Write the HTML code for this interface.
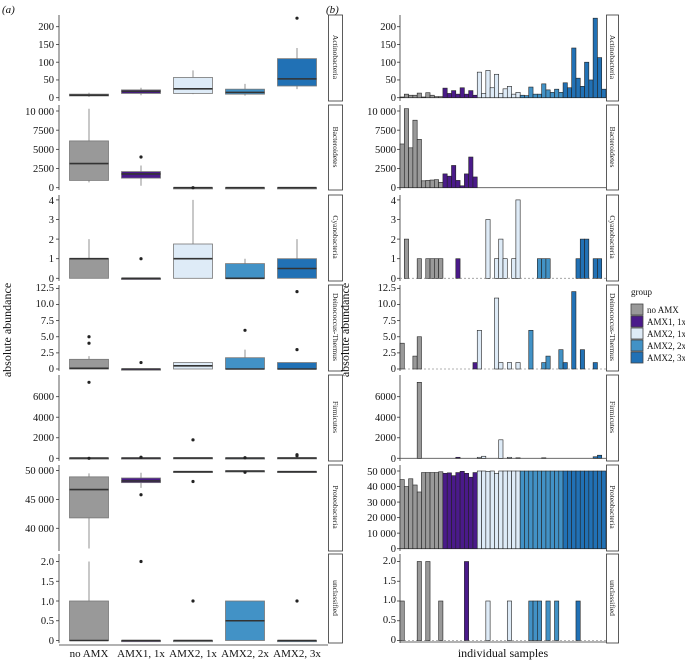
<!DOCTYPE html>
<html><head><meta charset="utf-8"><style>
body{margin:0;background:#fff}
svg{display:block;font-family:"Liberation Serif",serif}
</style></head><body>
<svg id="s" width="685" height="660" viewBox="0 0 685 660" xmlns="http://www.w3.org/2000/svg">
<g id="g"></g>
<g font-size="11" fill="#111">
<text x="2" y="13" font-style="italic">(a)</text>
<text x="326" y="13" font-style="italic">(b)</text>
<text transform="translate(11,330) rotate(-90)" text-anchor="middle" font-size="12">absolute abundance</text>
<text transform="translate(349,330) rotate(-90)" text-anchor="middle" font-size="12">absolute abundance</text>
<text x="503" y="657" text-anchor="middle" font-size="12">individual samples</text>
<g text-anchor="middle" font-size="11">
<text x="89" y="657">no AMX</text><text x="141" y="657">AMX1, 1x</text><text x="193" y="657">AMX2, 1x</text><text x="245" y="657">AMX2, 2x</text><text x="297" y="657">AMX2, 3x</text>
</g>
<g font-size="7.5" text-anchor="middle" fill="#222">
<text transform="translate(333,57) rotate(90)">Actinobacteria</text>
<text transform="translate(333,147) rotate(90)">Bacteroidetes</text>
<text transform="translate(333,237) rotate(90)">Cyanobacteria</text>
<text transform="translate(333,327) rotate(90)">Deinococcus-Thermus</text>
<text transform="translate(333,417) rotate(90)">Firmicutes</text>
<text transform="translate(333,507) rotate(90)">Proteobacteria</text>
<text transform="translate(333,598) rotate(90)">unclassified</text>
<text transform="translate(610,57) rotate(90)">Actinobacteria</text>
<text transform="translate(610,147) rotate(90)">Bacteroidetes</text>
<text transform="translate(610,237) rotate(90)">Cyanobacteria</text>
<text transform="translate(610,327) rotate(90)">Deinococcus-Thermus</text>
<text transform="translate(610,417) rotate(90)">Firmicutes</text>
<text transform="translate(610,507) rotate(90)">Proteobacteria</text>
<text transform="translate(610,598) rotate(90)">unclassified</text>
</g>
<g font-size="10.5" text-anchor="end">
<text x="54" y="101">0</text><text x="54" y="83">50</text><text x="54" y="66">100</text><text x="54" y="48">150</text><text x="54" y="30">200</text>
<text x="54" y="191">0</text><text x="54" y="172">2500</text><text x="54" y="153">5000</text><text x="54" y="134">7500</text><text x="54" y="115">10 000</text>
<text x="54" y="282">0</text><text x="54" y="262">1</text><text x="54" y="243">2</text><text x="54" y="223">3</text><text x="54" y="204">4</text>
<text x="54" y="372">0</text><text x="54" y="356">2.5</text><text x="54" y="340">5.0</text><text x="54" y="324">7.5</text><text x="54" y="307">10.0</text><text x="54" y="291">12.5</text>
<text x="54" y="462">0</text><text x="54" y="441">2000</text><text x="54" y="421">4000</text><text x="54" y="400">6000</text>
<text x="54" y="474">50 000</text><text x="54" y="503">45 000</text><text x="54" y="532">40 000</text>
<text x="54" y="644">0</text><text x="54" y="624">0.5</text><text x="54" y="605">1.0</text><text x="54" y="585">1.5</text><text x="54" y="565">2.0</text>
<text x="396" y="101">0</text><text x="396" y="83">50</text><text x="396" y="66">100</text><text x="396" y="48">150</text><text x="396" y="30">200</text>
<text x="396" y="191">0</text><text x="396" y="172">2500</text><text x="396" y="153">5000</text><text x="396" y="134">7500</text><text x="396" y="115">10 000</text>
<text x="396" y="282">0</text><text x="396" y="262">1</text><text x="396" y="243">2</text><text x="396" y="223">3</text><text x="396" y="204">4</text>
<text x="396" y="372">0</text><text x="396" y="356">2.5</text><text x="396" y="340">5.0</text><text x="396" y="324">7.5</text><text x="396" y="307">10.0</text><text x="396" y="291">12.5</text>
<text x="396" y="462">0</text><text x="396" y="441">2000</text><text x="396" y="421">4000</text><text x="396" y="400">6000</text>
<text x="396" y="552">0</text><text x="396" y="537">10 000</text><text x="396" y="521">20 000</text><text x="396" y="506">30 000</text><text x="396" y="490">40 000</text><text x="396" y="475">50 000</text>
<text x="396" y="643">0</text><text x="396" y="623">0.5</text><text x="396" y="603">1.0</text><text x="396" y="584">1.5</text><text x="396" y="564">2.0</text>
</g>
<g font-size="9">
<text x="631" y="295">group</text>
<text x="647" y="313">no AMX</text><text x="647" y="325">AMX1, 1x</text><text x="647" y="337">AMX2, 1x</text><text x="647" y="349">AMX2, 2x</text><text x="647" y="361">AMX2, 3x</text>
</g>
</g>
</svg>
<script>
var C=['#999999','#4a1a8a','#deebf7','#4292c6','#2171b5'];
var rows=[
{t:15,b:101,y0:97.7,k:0.355},
{t:105,b:190,y0:187.7,k:0.00767},
{t:195,b:281,y0:278.3,k:19.6},
{t:285,b:371,y0:369,k:6.45},
{t:375,b:461,y0:458.3,k:0.01027},
{t:465,b:551,y0:548.7,k:0.001554},
{t:554,b:643,y0:640.5,k:39.5}];
var h='';
function L(x1,y1,x2,y2,c,w,d){h+='<line x1="'+x1+'" y1="'+y1+'" x2="'+x2+'" y2="'+y2+'" stroke="'+c+'" stroke-width="'+(w||1)+'"'+(d?' stroke-dasharray="'+d+'"':'')+'/>';}
function R(x,y,w,hh,f,s,sw){h+='<rect x="'+x+'" y="'+y+'" width="'+w+'" height="'+hh+'" fill="'+f+'" stroke="'+s+'" stroke-width="'+sw+'"/>';}
rows.forEach(function(r){R(328.5,r.t,14,r.b-r.t,'#fff','#333',0.8);R(606.5,r.t,12,r.b-r.t,'#fff','#333',0.8);
L(59,r.t,59,r.b,'#333',0.8);L(400,r.t,400,r.b,'#333',0.8);});
L(59,645,328,645,'#333',0.8);L(400,642,606,642,'#333',0.8);
var tk=[[0,50,100,150,200],[0,2500,5000,7500,10000],[0,1,2,3,4],[0,2.5,5,7.5,10,12.5],[0,2000,4000,6000],[0,10000,20000,30000,40000,50000],[0,.5,1,1.5,2]];
tk.forEach(function(a,i){var r=rows[i];a.forEach(function(v){var y=r.y0-v*r.k;L(397,y,400,y,'#333',0.8);if(i!=5)L(56,y,59,y,'#333',0.8);});});
[50000,45000,40000].forEach(function(v){var y=528.3-(v-40000)*0.00578;L(56,y,59,y,'#333',0.8);});
var D=[
[2,10,7,7,13,2,14,7,3,3, 27,12,20,10,28,10,20,7, 72,12,77,28,66,12,25,32,10,15, 7,6,30,10,10,39,22,15,24,15, 42,28,140,55,32,100,50,224,113,24],
[5700,10300,5200,8800,6300,900,950,1000,1050,700, 1800,1500,2900,950,250,1800,4000,1400],
{1:2,4:1,6:1,7:1,8:1,9:1,13:1,20:3,22:1,23:2,24:1,26:1,27:4,32:1,33:1,34:1,41:1,42:2,43:2,45:1,46:1},
{0:4,3:2,4:5,17:1,18:6,22:11,23:1,25:1,27:1,30:6,33:1,34:2,37:3,38:1,40:12,42:3,45:1},
{4:7400,13:100,18:100,19:200,23:1800,25:100,27:50,33:50,45:150,46:300},
[44500,40000,45000,41000,36500,49000,49000,49000,49000,49500, 48500,48800,47000,49000,49800,48500,46000,49000, 50000,50000,49800,50000,48500,50000,50000,50000,50000,50000],
{0:1,4:2,6:2,9:1,15:2,20:1,25:1,30:1,31:1,32:1,34:1,36:1,41:1}];
function grp(i){return i<10?0:i<18?1:i<28?2:i<38?3:4;}
var bw=206/48;
D.forEach(function(d,ri){var r=rows[ri];
 if(ri==2||ri==3||ri==6)L(400,r.y0,606,r.y0,'#999',0.8,'2,2');
 else L(400,r.y0,606,r.y0,'#555',0.8);
 for(var i=0;i<48;i++){var v=d[i];if(v===undefined)v=(ri==5?50000:0);if(!v)continue;
  var hh=v*r.k;R((400+i*bw).toFixed(2),(r.y0-hh).toFixed(2),bw.toFixed(2),hh.toFixed(2),C[grp(i)],'#222',0.6);}
});
var cx=[89,141,193,245,297];
function box(ri,g,lo,q1,md,q3,hi,out,map){var r=rows[ri];var Y=map||function(v){return r.y0-v*r.k;};var x=cx[g];
 L(x,Y(hi),x,Y(q3),'#777',0.8);L(x,Y(q1),x,Y(lo),'#777',0.8);
 var y1=Y(q3),y2=Y(q1);var hh=Math.max(y2-y1,1.2);
 R(x-19.5,y1,39,hh,C[g],'#777',0.8);L(x-19.5,Y(md),x+19.5,Y(md),'#333',1.6);
 (out||[]).forEach(function(o){h+='<circle cx="'+x+'" cy="'+Y(o)+'" r="1.6" fill="#222"/>';});}
box(0,0,2,5,7,10,14);box(0,1,7,12,18,22,28);box(0,2,10,12,25,57,77);box(0,3,6,10,15,24,39);box(0,4,24,33,53,110,140,[224]);
box(1,0,700,950,3150,6100,10300);box(1,1,250,1250,1800,2100,2900,[4000]);box(1,2,0,0,0,0,0,[0]);box(1,3,0,0,0,0,0);box(1,4,0,0,0,0,0);
box(2,0,0,0,1,1,2);box(2,1,0,0,0,0,0,[1]);box(2,2,0,0,1,1.75,4);box(2,3,0,0,0,0.75,1);box(2,4,0,0,0.5,1,2);
box(3,0,0,0,0.1,1.5,2,[4,5]);box(3,1,0,0,0,0,0,[1]);box(3,2,0,0,0.5,1,1);box(3,3,0,0,0,1.75,3,[6]);box(3,4,0,0,0,1,1,[3,12]);
box(4,0,0,0,20,40,40,[0,7400]);box(4,1,0,0,20,40,40,[100]);box(4,2,0,0,20,60,60,[1800]);box(4,3,0,0,20,40,40,[50]);box(4,4,0,0,20,60,60,[250,350]);
var P=function(v){return 528.3-(v-40000)*0.00578;};
box(5,0,36500,41800,46700,48900,49500,[],P);box(5,1,47000,47900,48200,48700,49600,[45800],P);box(5,2,49800,49750,49800,49850,49800,[48100],P);box(5,3,49900,49850,49900,49950,49900,[49700],P);box(5,4,49800,49750,49800,49850,49800,[],P);
box(6,0,0,0,0,1,2);box(6,1,0,0,0,0,0,[2]);box(6,2,0,0,0,0,0,[1]);box(6,3,0,0,0.5,1,1);box(6,4,0,0,0,0,0,[1]);
for(var i=0;i<5;i++)R(631,304+i*12,12,11,C[i],'#444',0.8);
document.getElementById('g').innerHTML=h;
</script>
</body></html>
